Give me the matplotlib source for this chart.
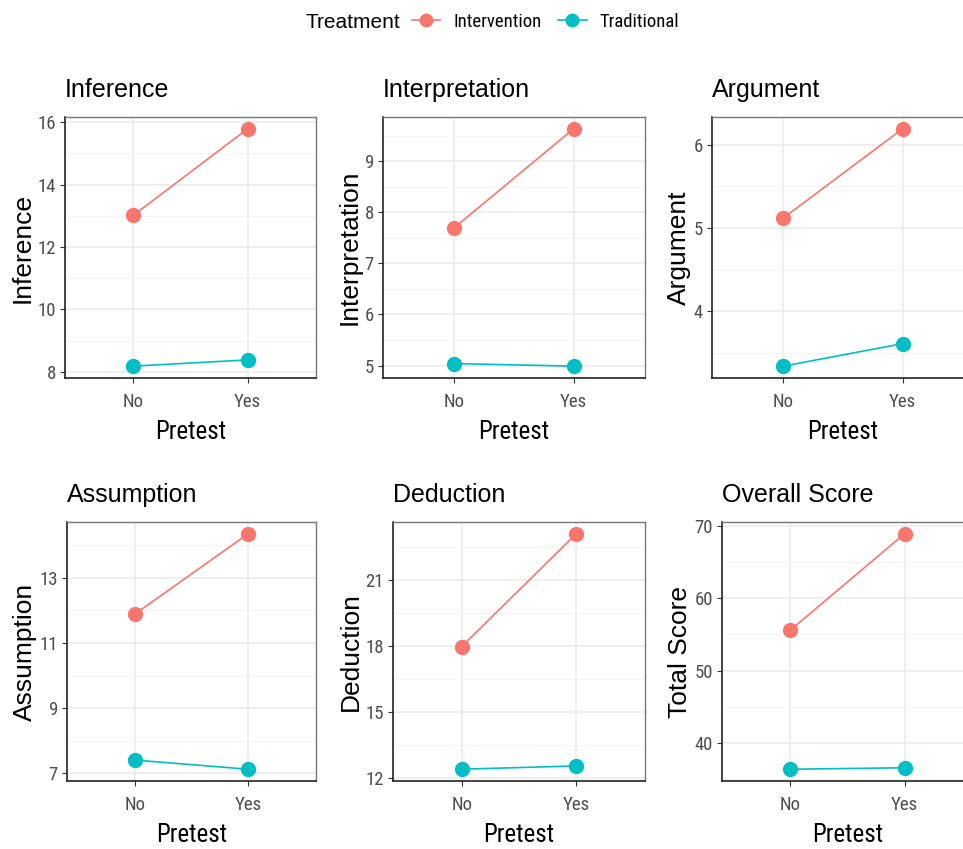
import os
import matplotlib
matplotlib.use('Agg')
import matplotlib.pyplot as plt
from matplotlib.lines import Line2D
from matplotlib.ticker import AutoMinorLocator, FixedLocator
from matplotlib import font_manager
from matplotlib.font_manager import FontProperties

# group means by pretest condition, one panel per subscale
panels = ['Inference', 'Interpretation', 'Argument',
          'Assumption', 'Deduction', 'Overall Score']
ylabels = ['Inference', 'Interpretation', 'Argument',
           'Assumption', 'Deduction', 'Total Score']
pretest = ['No', 'Yes']
treatments = ['Intervention', 'Traditional']

intervention = [[13.02, 15.79], [7.70, 9.63], [5.12, 6.19],
                [11.88, 14.34], [17.99, 23.11], [55.6, 68.9]]
traditional = [[8.18, 8.38], [5.04, 4.99], [3.34, 3.61],
               [7.41, 7.13], [12.42, 12.57], [36.4, 36.6]]
yticks = [[8, 10, 12, 14, 16], [5, 6, 7, 8, 9], [4, 5, 6],
          [7, 9, 11, 13], [12, 15, 18, 21], [40, 50, 60, 70]]

COLORS = {'Intervention': '#F8766D', 'Traditional': '#00BFC4'}
SANS = 'Liberation Sans'
plt.rcParams['font.family'] = [SANS, 'DejaVu Sans']


def narrow_font():
    # pick a condensed face for tick/legend text if one is installed
    prefs = ['LiberationSansNarrow-Regular', 'RobotoCondensed-Regular',
             'NotoSans-Condensed.', 'NotoSans-SemiCondensed.',
             'OpenSans-CondensedRegular', 'OpenSans_Condensed-Regular',
             'DejaVuSansCondensed.']
    files = [f.fname for f in font_manager.fontManager.ttflist]
    for p in prefs:
        for f in files:
            if os.path.basename(f).startswith(p):
                return f
    return None


NARROW_FILE = narrow_font()


def narrow(size):
    if NARROW_FILE:
        return FontProperties(fname=NARROW_FILE, size=size)
    return FontProperties(family=SANS, size=size * 0.88)


W, H = 963, 849
fig = plt.figure(figsize=(W / 100, H / 100), dpi=100)

# panel boxes in pixels: left, right, top, bottom
boxes = [(65, 316, 117, 378), (383, 645, 117, 378), (712, 974, 117, 378),
         (67, 316, 522, 781), (393, 645, 522, 781), (722, 973, 522, 781)]

for i, name in enumerate(panels):
    l, r, t, b = boxes[i]
    ax = fig.add_axes([l / W, 1 - b / H, (r - l) / W, (b - t) / H])
    x = list(range(len(pretest)))
    for tr, vals in zip(treatments, [intervention[i], traditional[i]]):
        ax.plot(x, vals, '-', color=COLORS[tr], lw=1.2, zorder=3)
        ax.plot(x, vals, 'o', color=COLORS[tr], ms=11, mec='none', zorder=4)

    allv = intervention[i] + traditional[i]
    lo, hi = min(allv), max(allv)
    pad = (hi - lo) * 0.05
    ax.set_ylim(lo - pad, hi + pad)
    ax.set_xlim(-0.6, 1.6)
    ax.set_xticks(x)
    ax.set_xticklabels(pretest)
    ax.yaxis.set_major_locator(FixedLocator(yticks[i]))
    ax.yaxis.set_minor_locator(AutoMinorLocator(2))

    ax.grid(True, which='major', color='#EBEBEB', lw=1.1, zorder=0)
    ax.grid(True, which='minor', axis='y', color='#F3F3F3', lw=0.7, zorder=0)
    ax.set_axisbelow(True)
    ax.tick_params(which='minor', length=0)
    ax.tick_params(which='major', length=3.5, width=0.8, color='#333333',
                   labelcolor='#4D4D4D')
    ax.tick_params(axis='x', pad=7)
    ax.tick_params(axis='y', pad=3)
    for lab in ax.get_xticklabels() + ax.get_yticklabels():
        lab.set_fontproperties(narrow(13.5))

    for side in ['bottom', 'left']:
        ax.spines[side].set_color('#222222')
        ax.spines[side].set_linewidth(1.2)
    for side in ['top', 'right']:
        ax.spines[side].set_color('#777777')
        ax.spines[side].set_linewidth(1.0)

    ax.set_title(name, loc='left', fontsize=18, pad=14.5, color='black')
    ax.set_xlabel('Pretest', labelpad=7, fontproperties=narrow(18))
    ax.set_ylabel(ylabels[i], fontsize=19, labelpad=2)

# legend strip across the top
fig.text(305 / W, 1 - 22 / H, 'Treatment', fontsize=15, va='center', ha='left')
handles = [Line2D([0], [0], color=COLORS[tr], lw=1.2, marker='o', ms=10,
                  mec='none') for tr in treatments]
leg = fig.legend(handles, treatments, loc='center left',
                 bbox_to_anchor=(412 / W, 1 - 22 / H), ncol=2, frameon=False,
                 borderpad=0, borderaxespad=0, handlelength=1.5,
                 handletextpad=0.7, columnspacing=0.9, prop=narrow(13.5))

fig.savefig('out.png', dpi=100)
